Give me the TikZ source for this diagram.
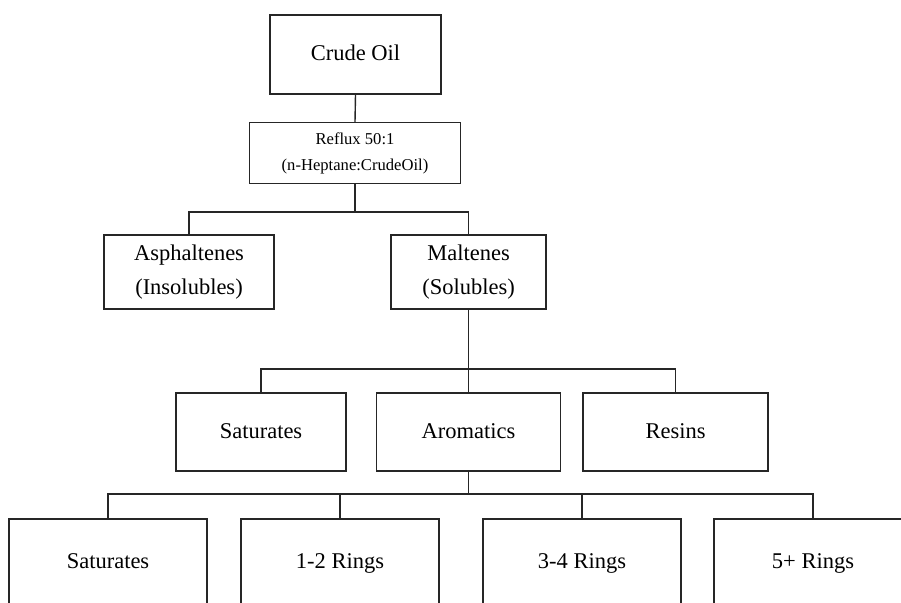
\documentclass[tikz,border=0pt]{standalone}
\usepackage{fontspec}
\setmainfont{Liberation Serif}
\begin{document}
\begin{tikzpicture}[x=1pt,y=-1pt,
  box/.style={draw=black!85,line width=1.4pt,rectangle,align=center,inner sep=2pt,
    font=\fontsize{22.5}{34}\selectfont},
  onebox/.style={box,text height=16pt,text depth=4pt},
  smallbox/.style={box,font=\fontsize{16.6}{26}\selectfont},
  link/.style={draw=black!85,line width=1.4pt}]
\useasboundingbox (0,0) rectangle (901,602);
\clip (0,0) rectangle (901,602);
% level 0
\node[onebox,minimum width=171pt,minimum height=79pt] (crude) at (355.5,54.5) {Crude Oil};
\node[smallbox,minimum width=211pt,minimum height=61pt] (reflux) at (355,153) {Reflux 50:1\\(n-Heptane:CrudeOil)};
% level 1
\node[box,minimum width=170pt,minimum height=74pt] (asph) at (189,272) {Asphaltenes\\(Insolubles)};
\node[box,minimum width=155pt,minimum height=74pt] (malt) at (468.5,272) {Maltenes\\(Solubles)};
% level 2
\node[onebox,minimum width=170pt,minimum height=78pt] (sat) at (261,432) {Saturates};
\node[onebox,minimum width=184pt,minimum height=78pt] (arom) at (468.5,432) {Aromatics};
\node[onebox,minimum width=185pt,minimum height=78pt] (resin) at (675.5,432) {Resins};
% level 3
\node[onebox,minimum width=198pt,minimum height=86pt] (satb) at (108,562) {Saturates};
\node[onebox,minimum width=198pt,minimum height=86pt] (r12) at (340,562) {1-2 Rings};
\node[onebox,minimum width=198pt,minimum height=86pt] (r34) at (582,562) {3-4 Rings};
\node[onebox,minimum width=198pt,minimum height=86pt] (r5) at (813,562) {5+ Rings};
% junctions
\coordinate (j1) at (355,212);
\coordinate (j2) at (468.5,369);
\coordinate (j3) at (468.5,494);
% connectors
\draw[link] (crude.south) -- (reflux.north);
\draw[link] (reflux.south) -- (j1);
\draw[link] (asph.north) |- (j1) -| (malt.north);
\draw[link] (malt.south) -- (j2);
\draw[link] (sat.north) |- (j2) -| (resin.north);
\draw[link] (j2) -- (arom.north);
\draw[link] (arom.south) -- (j3);
\draw[link] (satb.north) |- (j3) -| (r5.north);
\draw[link] (r12.north) -- (r12.north |- j3);
\draw[link] (r34.north) -- (r34.north |- j3);
\end{tikzpicture}
\end{document}
